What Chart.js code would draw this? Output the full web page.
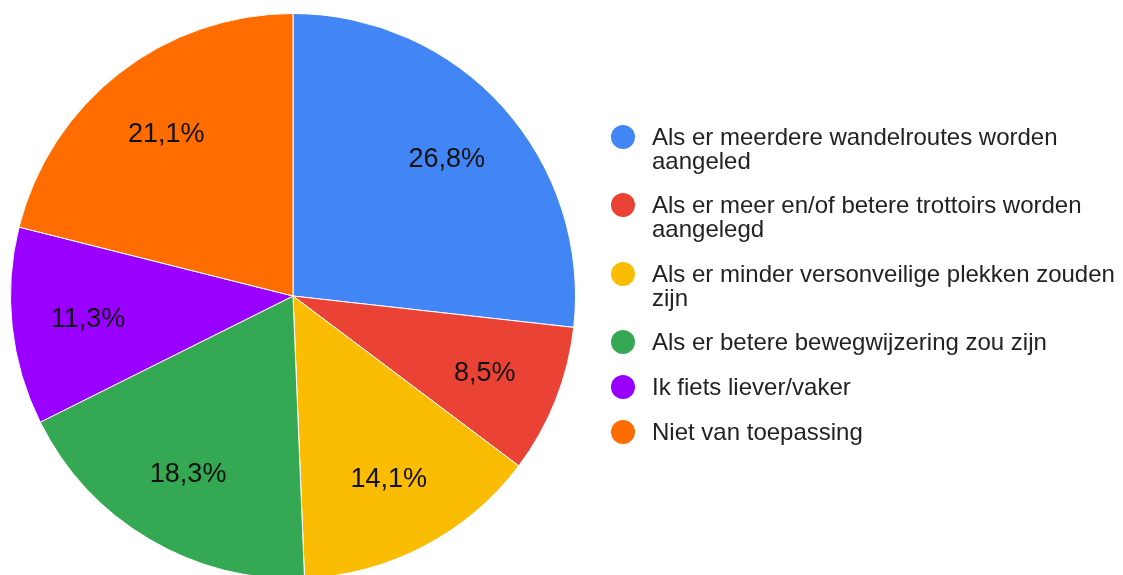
<!DOCTYPE html>
<html>
<head>
<meta charset="utf-8">
<script src="https://cdn.jsdelivr.net/npm/chart.js@4"></script>
<style>
    html, body { margin: 0; padding: 0; background: #fff; overflow: hidden; }
    #wrap { position: relative; width: 1123px; height: 600px; }
    #chart { position: absolute; left: 0; top: 0; }
    #legend {
        position: absolute; left: 611px; top: 124.7px;
        font-family: "Liberation Sans", Arial, sans-serif;
        font-size: 24px; line-height: 24px; color: #222;
    }
    .item { display: flex; align-items: flex-start; margin-bottom: 20.6px; white-space: nowrap; }
    .dot { width: 24px; height: 24px; border-radius: 50%; flex: none; margin-right: 17px; }
</style>
</head>
<body>
<div id="wrap">
    <canvas id="chart" width="1123" height="600"></canvas>
    <div id="legend"></div>
</div>
<script>
// Answers (share of respondents, %)
const labels = [
    ['Als er meerdere wandelroutes worden', 'aangeled'],
    ['Als er meer en/of betere trottoirs worden', 'aangelegd'],
    ['Als er minder versonveilige plekken zouden', 'zijn'],
    ['Als er betere bewegwijzering zou zijn'],
    ['Ik fiets liever/vaker'],
    ['Niet van toepassing']
];
const values = [26.8, 8.5, 14.1, 18.3, 11.3, 21.1];
const colors = ['#4285f4', '#ea4335', '#fbbc04', '#34a853', '#9900ff', '#ff6d01'];

// Percentage labels inside each slice
const sliceLabels = {
    id: 'sliceLabels',
    afterDatasetsDraw(chart) {
        const ctx = chart.ctx;
        const meta = chart.getDatasetMeta(0);
        ctx.save();
        ctx.font = '27px "Liberation Sans", Arial, sans-serif';
        ctx.fillStyle = '#111';
        ctx.textAlign = 'center';
        ctx.textBaseline = 'middle';
        meta.data.forEach((arc, i) => {
            const { x, y, startAngle, endAngle, outerRadius } = arc.getProps(['x', 'y', 'startAngle', 'endAngle', 'outerRadius']);
            const mid = (startAngle + endAngle) / 2;
            const r = outerRadius * 0.73;
            const text = values[i].toFixed(1).replace('.', ',') + '%';
            ctx.fillText(text, x + Math.cos(mid) * r, y + Math.sin(mid) * r + 1);
        });
        ctx.restore();
    }
};

const chart = new Chart(document.getElementById('chart'), {
    type: 'pie',
    data: {
        labels: labels,
        datasets: [{
            data: values,
            backgroundColor: colors,
            borderColor: '#ffffff',
            borderWidth: 1
        }]
    },
    options: {
        responsive: false,
        animation: false,
        layout: { padding: { left: 10, top: 13, right: 547, bottom: 21 } },
        plugins: {
            legend: { display: false },
            tooltip: { enabled: false }
        }
    },
    plugins: [sliceLabels]
});

// HTML legend so long answers can wrap onto two lines
const legendEl = document.getElementById('legend');
labels.forEach((lines, i) => {
    const item = document.createElement('div');
    item.className = 'item';
    item.innerHTML = `<span class="dot" style="background:${colors[i]}"></span><span>${lines.join('<br>')}</span>`;
    legendEl.appendChild(item);
});
</script>
</body>
</html>
